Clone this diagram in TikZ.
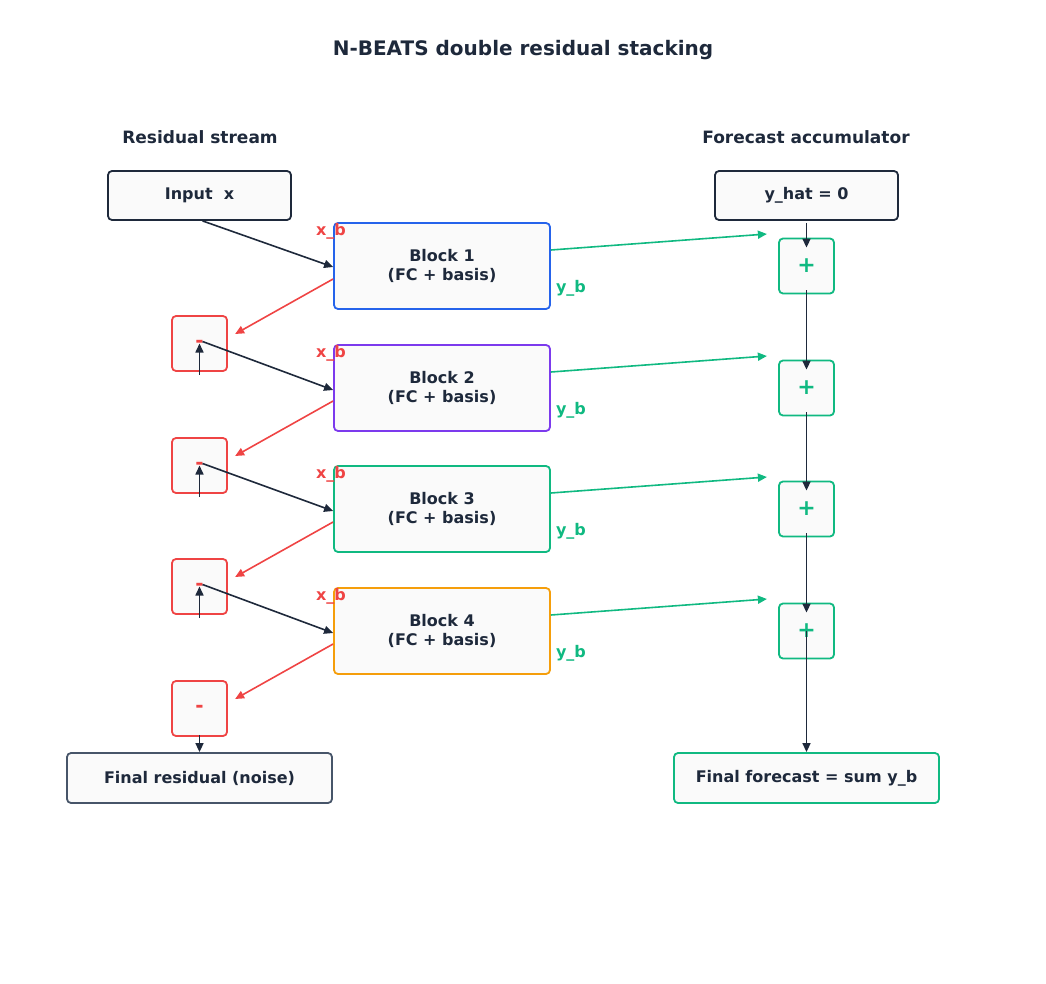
\documentclass[tikz,border=0pt]{standalone}
\usepackage{fontspec}
\setmainfont{DejaVu Sans}
\usetikzlibrary{arrows.meta}
\definecolor{dk}{HTML}{1E293B}
\definecolor{rd}{HTML}{EF4444}
\definecolor{gn}{HTML}{10B981}
\definecolor{bl}{HTML}{2563EB}
\definecolor{pu}{HTML}{7C3AED}
\definecolor{og}{HTML}{F59E0B}
\definecolor{gy}{HTML}{475569}
\definecolor{bg}{HTML}{FAFAFA}
\begin{document}
\begin{tikzpicture}[x=1pt,y=-1pt,
 box/.style={draw,line width=1.8pt,rounded corners=4pt,fill=bg,inner sep=0pt,font=\bfseries\fontsize{16}{19}\selectfont,text=dk,align=center},
 arr/.style={-{Triangle[length=9pt,width=8pt]},line width=1.6pt},
 lab/.style={font=\bfseries\fontsize{16}{19}\selectfont}]
\useasboundingbox (0,0) rectangle (1046,984);
\node[font=\bfseries\fontsize{20}{24}\selectfont,text=dk] (title) at (523,50) {N-BEATS double residual stacking};
\node[font=\bfseries\fontsize{17}{20}\selectfont,text=dk] (rs) at (200,137) {Residual stream};
\node[font=\bfseries\fontsize{17}{20}\selectfont,text=dk] (fa) at (806,137) {Forecast accumulator};
\node[box,draw=dk,minimum width=183pt,minimum height=49pt] (in) at (199.5,195.5) {Input\ \ x};
\node[box,draw=dk,minimum width=183pt,minimum height=49pt] (yh) at (806.5,195.5) {y\_hat = 0};
\foreach \i/\c/\y in {1/bl/266,2/pu/388,3/gn/509,4/og/631}{
 \node[box,draw=\c,minimum width=216pt,minimum height=86pt] (b\i) at (442,\y) {Block \i\\(FC + basis)};
 \node[box,draw=gn,text=gn,minimum width=55pt,minimum height=55pt,font=\bfseries\fontsize{22}{24}\selectfont] (p\i) at (806.5,\y) {+};
 \node[box,draw=rd,text=rd,minimum width=55pt,minimum height=55pt,font=\bfseries\fontsize{20}{24}\selectfont] (m\i) at (199.5,\y+77.5) {-};
 \node[lab,text=rd] (xl\i) at (331,\y-35) {x\_b};
 \node[lab,text=gn] (yl\i) at (571,\y+22) {y\_b};
 \draw[arr,rd] ([yshift=-13pt]b\i.west) -- ++(-98,55);
 \draw[arr,gn] ([yshift=16pt]b\i.east) -- ++(216,-16);
}
\node[box,draw=gy,minimum width=265pt,minimum height=50pt] (fr) at (199.5,778) {Final residual (noise)};
\node[box,draw=gn,minimum width=265pt,minimum height=50pt] (ff) at (806.5,778) {Final forecast = sum y\_b};
\draw[arr,dk] ([xshift=3pt]in.south) -- ([yshift=-1pt]b1.west);
\foreach \i/\j in {1/2,2/3,3/4}{
 \draw[arr,dk] ([yshift=-3pt]m\i.south) -- (m\i.center);
 \draw[arr,dk] ([xshift=3pt,yshift=2pt]m\i.center) -- ([yshift=-2pt]b\j.west);
 \draw[arr,dk] ([yshift=4pt]p\i.south) -- ([yshift=-10pt]p\j.north);
}
\draw[arr,dk] ([yshift=2pt]m4.south) -- (fr.north);
\draw[arr,dk] ([yshift=-2pt]yh.south) -- ([yshift=-10pt]p1.north);
\draw[arr,dk] ([yshift=28pt]p4.south) -- (ff.north);
\end{tikzpicture}
\end{document}
